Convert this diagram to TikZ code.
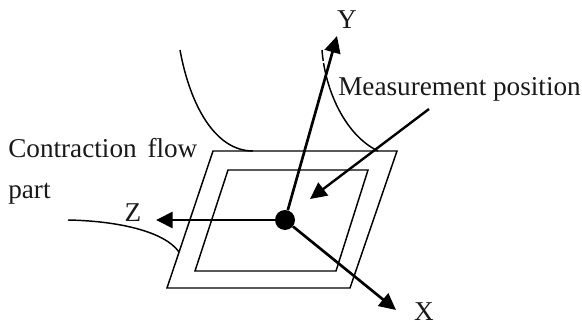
\documentclass[tikz,border=0pt]{standalone}
\usepackage{fontspec}
\setmainfont{Liberation Serif}
\usetikzlibrary{arrows.meta}
\tikzset{
  thin line/.style={line width=1.1pt,line join=miter},
  axis/.style={line width=2pt,-{Triangle[length=12.5pt,width=12pt]}},
  lbl/.style={inner sep=0pt,font=\fontsize{20.4pt}{24pt}\selectfont,text=black!90}
}
\begin{document}
\begin{tikzpicture}[x=0.75pt,y=-0.75pt]
\useasboundingbox (0,0) rectangle (582,321);
\coordinate (otl) at (213,151); \coordinate (otr) at (397,151);
\coordinate (obr) at (350,288); \coordinate (obl) at (167,288);
\coordinate (itl) at (228,170); \coordinate (itr) at (368,170);
\coordinate (ibr) at (336,271); \coordinate (ibl) at (195,271);
\draw[thin line] (otl) -- (otr) -- (obr) -- (obl) -- cycle;
\draw[thin line] (itl) -- (itr) -- (ibr) -- (ibl) -- cycle;
\coordinate (la) at (180,50); \coordinate (lb) at (253,151);
\draw[thin line] (la) .. controls (190,105) and (215,151) .. (lb);
\coordinate (ra) at (322,50); \coordinate (rb) at (378,151);
\draw[thin line] (ra) .. controls (325,90) and (345,135) .. (rb);
\coordinate (ca) at (68,220); \coordinate (cb) at (179,252);
\draw[thin line] (ca) .. controls (120,221) and (165,232) .. (cb);
\coordinate (ywhite) at (320,62); \coordinate (ywhiteb) at (330,62);
\draw[white,line width=1pt] (ywhite) -- (ywhiteb);
\node[circle,fill=black,minimum size=15pt,inner sep=0pt] (o) at (285,220) {};
\coordinate (ty) at (337,36); \coordinate (tz) at (156,220); \coordinate (tx) at (396,310);
\coordinate (ms) at (429,109); \coordinate (mt) at (310,199);
\draw[axis] (o) -- (ty);
\draw[axis] (o) -- (tz);
\draw[axis] (o) -- (tx);
\draw[line width=1.8pt,-{Triangle[length=12.5pt,width=12pt]}] (ms) -- (mt);
\node[lbl,anchor=base] (ly) at (347,29) {Y};
\node[lbl,anchor=base] (lz) at (133,221) {Z};
\node[lbl,anchor=base] (lx) at (424,320) {X};
\node[lbl,anchor=base west] (lm) at (338,95) {Measurement position};
\node[lbl,anchor=base west] (lc) at (8,157) {Contraction\hspace{3pt} flow};
\node[lbl,anchor=base west] (lp) at (8,198) {part};
\end{tikzpicture}
\end{document}
